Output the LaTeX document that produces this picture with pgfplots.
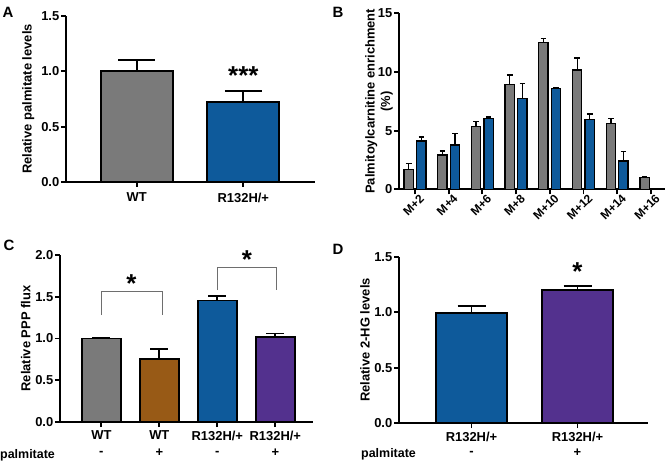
\documentclass[border=0pt]{standalone}
\usepackage{fontspec}
\setmainfont{Liberation Sans}
\usepackage{pgfplots}
\pgfplotsset{compat=1.18}
\definecolor{cgrey}{RGB}{122,122,122}
\definecolor{cblue}{RGB}{14,90,155}
\definecolor{cbrown}{RGB}{152,90,22}
\definecolor{cpurple}{RGB}{83,49,142}
\definecolor{cbracket}{RGB}{110,110,110}
\newcommand{\lbl}{\fontsize{13}{15.5}\selectfont\bfseries}
\newcommand{\starfont}{\fontsize{26}{26}\selectfont\bfseries}
\pgfplotsset{
  panel/.style={
    scale only axis,
    clip=false,
    axis x line*=bottom, axis y line*=left,
    axis line style={line width=1.8bp, black},
    tick style={line width=1.8bp, black},
    major tick length=5bp,
    tick align=outside,
    ymin=0,
    /pgf/number format/assume math mode=true,
    tick label style={font=\lbl, inner sep=1.5bp},
    label style={font=\lbl},
  },
  onedec/.style={yticklabel style={/pgf/number format/.cd, fixed, fixed zerofill, precision=1}},
  bars/.style={ybar, bar shift=0pt, draw=black, line width=#1,
    error bars/y dir=plus, error bars/y explicit,
    error bars/error bar style={line width=#1, black}},
  cap/.style 2 args={error bars/error mark options={rotate=90, black, line width=#1, mark size=#2}},
}
\begin{document}
\begin{tikzpicture}
\useasboundingbox (0,0) rectangle (667bp,463bp);

% ---------------- Panel A ----------------
\begin{axis}[panel, onedec,
  at={(66bp,281bp)}, anchor=south west,
  width=249bp, height=166bp,
  xmin=-0.664, xmax=1.673, ymax=1.5,
  ytick={0,0.5,1,1.5},
  xtick={0,1},
  xticklabels={WT,R132H/+},
  xticklabel style={yshift=-4bp},
  ylabel={Relative palmitate levels},
  ylabel style={at={(axis description cs:-0.152,0.5)}, anchor=center},
  bar width=72bp]
\addplot[bars=1.8bp, fill=cgrey, cap={1.8bp}{18.5bp}]
  coordinates {(0,1.00) +- (0,0.10)};
\addplot[bars=1.8bp, fill=cblue, cap={1.8bp}{18.5bp}]
  coordinates {(1,0.725) +- (0,0.10)};
\node[font=\starfont] at (axis cs:1,0.965) {***};
\end{axis}
\node[font=\fontsize{15}{15}\selectfont\bfseries] at (8bp,451bp) {A};

% ---------------- Panel B ----------------
\begin{axis}[panel,
  at={(399bp,273.7bp)}, anchor=south west,
  width=266bp, height=176bp,
  xmin=-0.475, xmax=7.42, ymax=15,
  ytick={0,5,10,15},
  xtick={0,1,2,3,4,5,6,7},
  xticklabels={M+2,M+4,M+6,M+8,M+10,M+12,M+14,M+16},
  xticklabel style={font=\fontsize{12}{14}\selectfont\bfseries, rotate=45, anchor=north east, inner sep=0bp, xshift=3.5bp, yshift=-2bp},
  ylabel={Palmitoylcarnitine enrichment\\(\%)},
  ylabel style={at={(axis description cs:-0.075,0.5)}, anchor=center, align=center},
  bar width=9.3bp]
\addplot[bars=1.3bp, fill=cgrey, cap={1.3bp}{2.8bp}]
  coordinates {(-0.187,1.70) +- (0,0.50) (0.813,2.93) +- (0,0.34) (1.813,5.34) +- (0,0.43) (2.813,8.95) +- (0,0.79)
               (3.813,12.50) +- (0,0.34) (4.813,10.17) +- (0,1.03) (5.813,5.60) +- (0,0.45) (6.813,0.99) +- (0,0.09)};
\addplot[bars=1.3bp, fill=cblue, cap={1.3bp}{2.8bp}]
  coordinates {(0.187,4.12) +- (0,0.34) (1.187,3.78) +- (0,0.99) (2.187,6.05) +- (0,0.11) (3.187,7.76) +- (0,1.24)
               (4.187,8.60) +- (0,0.09) (5.187,5.97) +- (0,0.45) (6.187,2.41) +- (0,0.79)};
\end{axis}
\node[font=\fontsize{15}{15}\selectfont\bfseries] at (338bp,451bp) {B};

% ---------------- Panel C ----------------
\begin{axis}[panel, onedec,
  at={(60bp,41bp)}, anchor=south west,
  width=253bp, height=167bp,
  xmin=-0.713, xmax=3.65, ymax=2,
  ytick={0,0.5,1,1.5,2},
  xtick={0,1,2,3},
  xticklabels={WT,WT,R132H/+,R132H/+},
  xticklabel style={yshift=-2bp},
  ylabel={Relative PPP flux},
  ylabel style={at={(axis description cs:-0.135,0.5)}, anchor=center},
  bar width=39bp]
\addplot[bars=1.8bp, fill=cgrey, cap={1.8bp}{9bp}]
  coordinates {(0,1.00) +- (0,0.01)};
\addplot[bars=1.8bp, fill=cbrown, cap={1.8bp}{9bp}]
  coordinates {(1,0.753) +- (0,0.123)};
\addplot[bars=1.8bp, fill=cblue, cap={1.8bp}{9bp}]
  coordinates {(2,1.454) +- (0,0.056)};
\addplot[bars=1.8bp, fill=cpurple, cap={1.8bp}{9bp}]
  coordinates {(3,1.02) +- (0,0.04)};
\draw[cbracket, line width=1.1bp] (axis cs:0,1.28) -- (axis cs:0,1.56) -- (axis cs:1.05,1.56) -- (axis cs:1.05,1.28);
\draw[cbracket, line width=1.1bp] (axis cs:2,1.58) -- (axis cs:2,1.85) -- (axis cs:3.02,1.85) -- (axis cs:3.02,1.58);
\node[font=\starfont] at (axis cs:0.52,1.66) {*};
\node[font=\starfont] at (axis cs:2.51,1.95) {*};
\node[font=\lbl] at (axis cs:0,0) [yshift=-31bp] {-};
\node[font=\lbl] at (axis cs:1,0) [yshift=-31bp] {+};
\node[font=\lbl] at (axis cs:2,0) [yshift=-31bp] {-};
\node[font=\lbl] at (axis cs:3,0) [yshift=-31bp] {+};
\end{axis}
\node[font=\fontsize{12.5}{15}\selectfont\bfseries, anchor=base west, inner sep=0pt] at (0bp,5bp) {palmitate};
\node[font=\fontsize{15}{15}\selectfont\bfseries] at (9bp,218bp) {C};

% ---------------- Panel D ----------------
\begin{axis}[panel, onedec,
  at={(399bp,40bp)}, anchor=south west,
  width=249bp, height=166bp,
  xmin=-0.684, xmax=1.665, ymax=1.5,
  ytick={0,0.5,1,1.5},
  xtick={0,1},
  xticklabels={R132H/+,R132H/+},
  xticklabel style={yshift=-2bp},
  ylabel={Relative 2-HG levels},
  ylabel style={at={(axis description cs:-0.137,0.5)}, anchor=center},
  bar width=71bp]
\addplot[bars=1.8bp, fill=cblue, cap={1.8bp}{14bp}]
  coordinates {(0,0.995) +- (0,0.06)};
\addplot[bars=1.8bp, fill=cpurple, cap={1.8bp}{14bp}]
  coordinates {(1,1.20) +- (0,0.04)};
\node[font=\starfont] at (axis cs:1,1.37) {*};
\node[font=\lbl] at (axis cs:0,0) [yshift=-30bp] {-};
\node[font=\lbl] at (axis cs:1,0) [yshift=-30bp] {+};
\end{axis}
\node[font=\fontsize{12.5}{15}\selectfont\bfseries, anchor=base west, inner sep=0pt] at (361bp,5.3bp) {palmitate};
\node[font=\fontsize{15}{15}\selectfont\bfseries] at (338bp,214bp) {D};
\end{tikzpicture}
\end{document}
